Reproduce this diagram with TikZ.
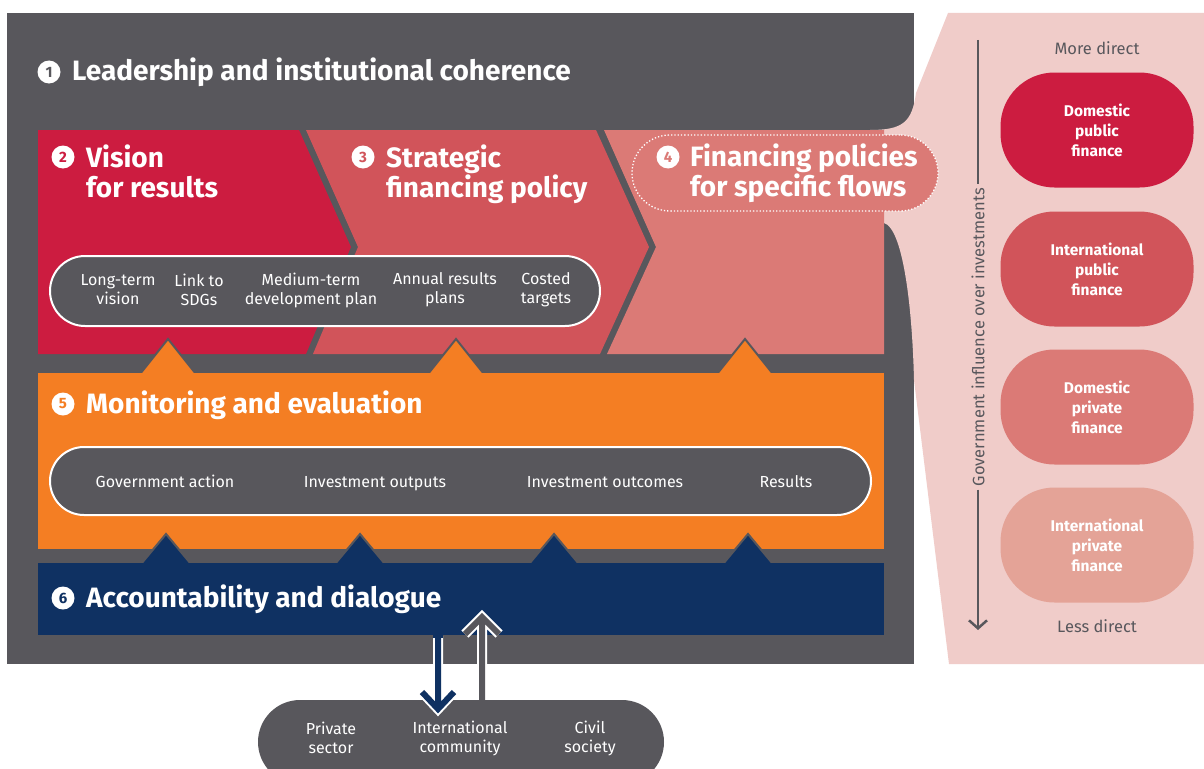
\documentclass[tikz,border=0pt]{standalone}
\usepackage{fontspec}
\setmainfont{Fira Sans}
\usetikzlibrary{arrows.meta}
\definecolor{frame}{HTML}{58575C}
\definecolor{crim}{HTML}{CC1C40}
\definecolor{redthree}{HTML}{D1545A}
\definecolor{salmon}{HTML}{DB7A76}
\definecolor{pinkbg}{HTML}{F0CCC9}
\definecolor{pinkfour}{HTML}{E4A397}
\definecolor{orangep}{HTML}{F47E23}
\definecolor{navyp}{HTML}{0F3162}
\begin{document}
\begin{tikzpicture}[x=1pt,y=-1pt,
  titlef/.style={font=\fontsize{28}{30}\selectfont\bfseries, text=white, inner sep=0, anchor=base west},
  numc/.style={circle, fill=white, inner sep=0, minimum size=23, font=\fontsize{15}{15}\selectfont\bfseries},
  pilltxt/.style={text=white, align=center, font=\fontsize{16}{19}\selectfont},
  linetxt/.style={text=white, anchor=base, inner sep=0, font=\fontsize{16}{19}\selectfont},
  graypill/.style={fill=frame, draw=white, line width=2, rounded corners=#1, inner sep=0},
  finpill/.style={fill=#1, rounded corners=54, minimum width=193, minimum height=115, inner sep=0, text=white, align=center, font=\fontsize{15.5}{20}\selectfont\bfseries},
  sidetxt/.style={text=frame, font=\fontsize{16.5}{18}\selectfont},
  uptri/.style={draw=frame, line width=2, line join=miter}
]
\useasboundingbox (0,0) rectangle (1204,768);
\fill[white] (0,0) rectangle (1204,768);
% frame
\fill[frame] (7,13) rectangle (914,664);
% pink side panel incl. funnel
\fill[pinkbg] (948,13) -- (916,93) .. controls (912,122) and (903,130) .. (870,130)
  -- (870,223) -- (884,223) .. controls (902,228) and (912,300) .. (914,380)
  -- (949,664) -- (1204,664) -- (1204,13) -- cycle;
% panels
\fill[crim] (38,130) -- (299,130) -- (351,247) -- (306,354) -- (38,354) -- cycle;
\fill[redthree] (306,130) -- (596,130) -- (649,247) -- (600,354) -- (313,354) -- (358,247) -- cycle;
\fill[salmon] (604,130) -- (884,130) -- (884,354) -- (607,354) -- (656,247) -- cycle;
% orange arrow triangles
\foreach \x in {168,456,745}{
  \filldraw[uptri, fill=orangep] (\x-28,374) -- (\x,339) -- (\x+28,374) -- cycle;
}
\fill[orangep] (38,373) rectangle (884,549);
% navy arrow triangles
\foreach \x in {166,360,554,748}{
  \filldraw[uptri, fill=navyp] (\x-25,564) -- (\x,534) -- (\x+25,564) -- cycle;
}
\fill[navyp] (38,563) rectangle (884,635);
% 4 dotted box
\node[fill=salmon, draw=white, dotted, line width=1.3, rounded corners=38, minimum width=306, minimum height=76, inner sep=0] (box4) at (785,173) {};
% titles
\node[numc, text=frame] (n1) at (49,72) {1};
\node[titlef] (t1) at (72,81) {Leadership and institutional coherence};
\node[numc, text=crim] (n2) at (63,157) {2};
\node[titlef] (t2a) at (86,167) {Vision};
\node[titlef] (t2b) at (86,197) {for results};
\node[numc, text=redthree] (n3) at (363,157) {3};
\node[titlef] (t3a) at (386,167) {Strategic};
\node[titlef] (t3b) at (386,197) {financing policy};
\node[numc, text=salmon] (n4) at (668,157) {4};
\node[titlef] (t4a) at (690,166) {Financing policies};
\node[titlef] (t4b) at (690,196) {for specific flows};
\node[numc, text=orangep] (n5) at (63,404) {5};
\node[titlef] (t5) at (86,413) {Monitoring and evaluation};
\node[numc, text=navyp] (n6) at (63,598) {6};
\node[titlef] (t6) at (86,607) {Accountability and dialogue};
% vision pill
\node[graypill=35, minimum width=550, minimum height=70] (vp) at (325,291) {};
\node[pilltxt] (v1) at (118,290) {Long-term\\vision};
\node[pilltxt] (v2) at (199,290) {Link to\\SDGs};
\node[pilltxt] (v3) at (311,290) {Medium-term\\development plan};
\node[pilltxt] (v4) at (445,290) {Annual results\\plans};
\node[pilltxt] (v5) at (546,290) {Costed\\targets};
% monitoring pill
\node[graypill=34, minimum width=821, minimum height=68] (mp) at (460.5,481) {};
\node[linetxt] (m1) at (165,487) {Government action};
\node[linetxt] (m2) at (375,487) {Investment outputs};
\node[linetxt] (m3) at (605,487) {Investment outcomes};
\node[linetxt] (m4) at (786,487) {Results};
% up arrow (under the bottom pill)
\coordinate (ubot) at (482,705);
\coordinate (utip) at (482,617);
\draw[white, line width=10, line join=miter, miter limit=10] (ubot) -- (utip) (465,634) -- (utip) -- (499,634);
\draw[frame, line width=6, line join=miter, miter limit=10] (ubot) -- (utip) (465,634) -- (utip) -- (499,634);
% bottom pill
\node[fill=frame, rounded corners=42, minimum width=406, minimum height=84, inner sep=0] (bp) at (461,742) {};
% down arrow (over the bottom pill)
\coordinate (dtop) at (438,636);
\coordinate (dtip) at (438,709);
\draw[white, line width=10, line join=miter, miter limit=10] (dtop) -- (dtip) (422,692) -- (dtip) -- (454,692);
\draw[navyp, line width=6, line join=miter, miter limit=10] (dtop) -- (dtip) (422,692) -- (dtip) -- (454,692);
\fill[navyp] (433,633) rectangle (443,638);
\node[pilltxt] (b1) at (331,738) {Private\\sector};
\node[pilltxt] (b2) at (460,738) {International\\community};
\node[pilltxt] (b3) at (590,738) {Civil\\society};
% right side
\node[sidetxt] (more) at (1097,48) {More direct};
\node[sidetxt] (less) at (1097,626) {Less direct};
\node[finpill=crim] (f1) at (1097,130) {Domestic\\public\\finance};
\node[finpill=redthree] (f2) at (1097,269) {International\\public\\finance};
\node[finpill=salmon] (f3) at (1097,407) {Domestic\\private\\finance};
\node[finpill=pinkfour] (f4) at (1097,545) {International\\private\\finance};
\node[sidetxt, rotate=90] (gov) at (978,337) {Government influence over investments};
\coordinate (atop) at (978,40);
\coordinate (abot) at (978,630);
\draw[frame, line width=2.5] (atop) -- (gov.east);
\draw[frame, line width=2.5, -{Straight Barb[length=8,width=18,line width=2.5]}] (gov.west) -- (abot);
\end{tikzpicture}
\end{document}
